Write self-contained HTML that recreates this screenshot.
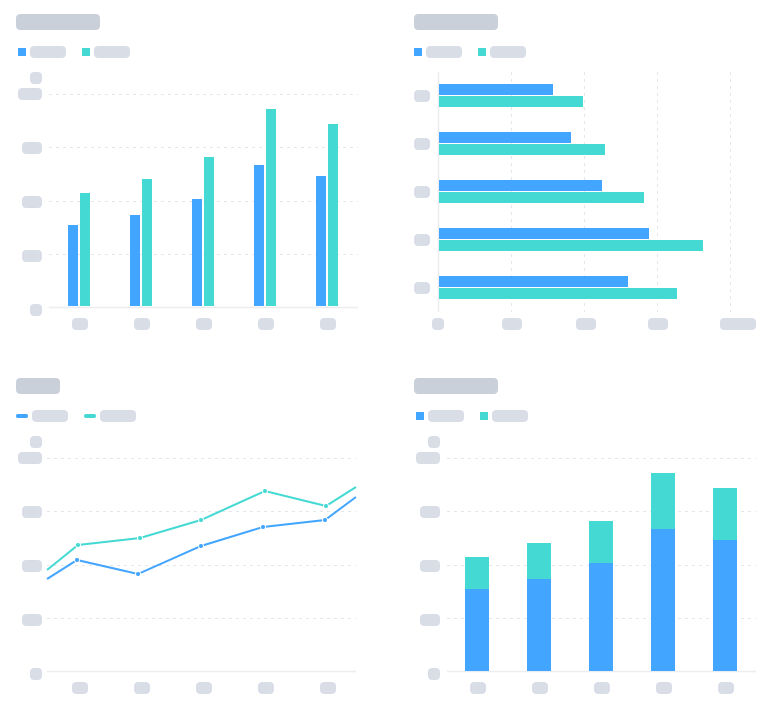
<!DOCTYPE html>
<html><head><meta charset="utf-8"><style>html,body{margin:0;padding:0;background:#fff}svg{display:block}</style></head>
<body>
<svg width="772" height="704" viewBox="0 0 772 704" xmlns="http://www.w3.org/2000/svg">
<g fill="#cad0da">
<rect x="16" y="14" width="84" height="16" rx="4"/>
<rect x="414" y="14" width="84" height="16" rx="4"/>
<rect x="16" y="378" width="44" height="16" rx="4"/>
<rect x="414" y="378" width="84" height="16" rx="4"/>
</g>
<g fill="#d9dde6">
<!-- legends -->
<rect x="30" y="46" width="36" height="12" rx="4"/><rect x="94" y="46" width="36" height="12" rx="4"/>
<rect x="426" y="46" width="36" height="12" rx="4"/><rect x="490" y="46" width="36" height="12" rx="4"/>
<rect x="32" y="410" width="36" height="12" rx="4"/><rect x="100" y="410" width="36" height="12" rx="4"/>
<rect x="428" y="410" width="36" height="12" rx="4"/><rect x="492" y="410" width="36" height="12" rx="4"/>
<!-- chart1 y labels -->
<rect x="30" y="72" width="12" height="12" rx="4"/><rect x="18" y="88" width="24" height="12" rx="4"/>
<rect x="22" y="142" width="20" height="12" rx="4"/><rect x="22" y="196" width="20" height="12" rx="4"/>
<rect x="22" y="250" width="20" height="12" rx="4"/><rect x="30" y="304" width="12" height="12" rx="4"/>
<!-- chart1 x labels -->
<rect x="72" y="318" width="16" height="12" rx="4"/><rect x="134" y="318" width="16" height="12" rx="4"/>
<rect x="196" y="318" width="16" height="12" rx="4"/><rect x="258" y="318" width="16" height="12" rx="4"/>
<rect x="320" y="318" width="16" height="12" rx="4"/>
<!-- chart2 -->
<rect x="414" y="90" width="16" height="12" rx="4"/><rect x="414" y="138" width="16" height="12" rx="4"/>
<rect x="414" y="186" width="16" height="12" rx="4"/><rect x="414" y="234" width="16" height="12" rx="4"/>
<rect x="414" y="282" width="16" height="12" rx="4"/>
<rect x="432" y="318" width="12" height="12" rx="4"/><rect x="502" y="318" width="20" height="12" rx="4"/>
<rect x="576" y="318" width="20" height="12" rx="4"/><rect x="648" y="318" width="20" height="12" rx="4"/>
<rect x="720" y="318" width="36" height="12" rx="4"/>
<!-- chart3 -->
<rect x="30" y="436" width="12" height="12" rx="4"/><rect x="18" y="452" width="24" height="12" rx="4"/>
<rect x="22" y="506" width="20" height="12" rx="4"/><rect x="22" y="560" width="20" height="12" rx="4"/>
<rect x="22" y="614" width="20" height="12" rx="4"/><rect x="30" y="668" width="12" height="12" rx="4"/>
<rect x="72" y="682" width="16" height="12" rx="4"/><rect x="134" y="682" width="16" height="12" rx="4"/>
<rect x="196" y="682" width="16" height="12" rx="4"/><rect x="258" y="682" width="16" height="12" rx="4"/>
<rect x="320" y="682" width="16" height="12" rx="4"/>
<!-- chart4 -->
<rect x="428" y="436" width="12" height="12" rx="4"/><rect x="416" y="452" width="24" height="12" rx="4"/>
<rect x="420" y="506" width="20" height="12" rx="4"/><rect x="420" y="560" width="20" height="12" rx="4"/>
<rect x="420" y="614" width="20" height="12" rx="4"/><rect x="428" y="668" width="12" height="12" rx="4"/>
<rect x="470" y="682" width="16" height="12" rx="4"/><rect x="532" y="682" width="16" height="12" rx="4"/>
<rect x="594" y="682" width="16" height="12" rx="4"/><rect x="656" y="682" width="16" height="12" rx="4"/>
<rect x="718" y="682" width="16" height="12" rx="4"/>
</g>
<!-- legend markers -->
<rect x="18" y="48" width="8" height="8" fill="#42a5ff"/><rect x="82" y="48" width="8" height="8" fill="#44d9d2"/>
<rect x="414" y="48" width="8" height="8" fill="#42a5ff"/><rect x="478" y="48" width="8" height="8" fill="#44d9d2"/>
<rect x="416" y="412" width="8" height="8" fill="#42a5ff"/><rect x="480" y="412" width="8" height="8" fill="#44d9d2"/>
<line x1="18" y1="416" x2="26" y2="416" stroke="#42a5ff" stroke-width="4" stroke-linecap="round"/>
<line x1="86" y1="416" x2="94" y2="416" stroke="#44d9d2" stroke-width="4" stroke-linecap="round"/>
<!-- grids -->
<g stroke="#e4e6ea" stroke-width="1" stroke-dasharray="3 4">
<line x1="49" y1="94.5" x2="358" y2="94.5"/><line x1="49" y1="147.5" x2="358" y2="147.5"/>
<line x1="49" y1="201.5" x2="358" y2="201.5"/><line x1="49" y1="254.5" x2="358" y2="254.5"/>
<line x1="511.5" y1="72" x2="511.5" y2="312"/><line x1="584.5" y1="72" x2="584.5" y2="312"/>
<line x1="657.5" y1="72" x2="657.5" y2="312"/><line x1="730.5" y1="72" x2="730.5" y2="312"/>
<line x1="47" y1="458.5" x2="356" y2="458.5"/><line x1="47" y1="511.5" x2="356" y2="511.5"/>
<line x1="47" y1="565.5" x2="356" y2="565.5"/><line x1="47" y1="618.5" x2="356" y2="618.5"/>
<line x1="447" y1="458.5" x2="756" y2="458.5"/><line x1="447" y1="511.5" x2="756" y2="511.5"/>
<line x1="447" y1="565.5" x2="756" y2="565.5"/><line x1="447" y1="618.5" x2="756" y2="618.5"/>
</g>
<g stroke="#ebedf0" stroke-width="1.5">
<line x1="49" y1="307.5" x2="358" y2="307.5"/>
<line x1="438.5" y1="72" x2="438.5" y2="312"/>
<line x1="47" y1="671.5" x2="356" y2="671.5"/>
<line x1="447" y1="671.5" x2="756" y2="671.5"/>
</g>
<!-- chart1 bars -->
<g fill="#42a5ff"><rect x="68" y="225" width="10" height="81"/><rect x="130" y="215" width="10" height="91"/><rect x="192" y="199" width="10" height="107"/><rect x="254" y="165" width="10" height="141"/><rect x="316" y="176" width="10" height="130"/></g>
<g fill="#44d9d2"><rect x="80" y="193" width="10" height="113"/><rect x="142" y="179" width="10" height="127"/><rect x="204" y="157" width="10" height="149"/><rect x="266" y="109" width="10" height="197"/><rect x="328" y="124" width="10" height="182"/></g>
<!-- chart2 bars -->
<g fill="#42a5ff"><rect x="439" y="84" width="114" height="11"/><rect x="439" y="132" width="132" height="11"/><rect x="439" y="180" width="163" height="11"/><rect x="439" y="228" width="210" height="11"/><rect x="439" y="276" width="189" height="11"/></g>
<g fill="#44d9d2"><rect x="439" y="96" width="144" height="11"/><rect x="439" y="144" width="166" height="11"/><rect x="439" y="192" width="205" height="11"/><rect x="439" y="240" width="264" height="11"/><rect x="439" y="288" width="238" height="11"/></g>
<!-- chart3 lines -->
<polyline points="47,579 77,560 138,574 201,546 263,527 325,520 356,497" fill="none" stroke="#42a5ff" stroke-width="2"/>
<polyline points="47,570 78,545 140,538 201,520 265,491 326,506 356,487" fill="none" stroke="#44d9d2" stroke-width="2"/>
<g fill="#42a5ff" stroke="#fff" stroke-width="1"><circle cx="77" cy="560" r="2.5"/><circle cx="138" cy="574" r="2.5"/><circle cx="201" cy="546" r="2.5"/><circle cx="263" cy="527" r="2.5"/><circle cx="325" cy="520" r="2.5"/></g>
<g fill="#44d9d2" stroke="#fff" stroke-width="1"><circle cx="78" cy="545" r="2.5"/><circle cx="140" cy="538" r="2.5"/><circle cx="201" cy="520" r="2.5"/><circle cx="265" cy="491" r="2.5"/><circle cx="326" cy="506" r="2.5"/></g>
<!-- chart4 stacked -->
<g fill="#42a5ff"><rect x="465" y="589" width="24" height="82"/><rect x="527" y="579" width="24" height="92"/><rect x="589" y="563" width="24" height="108"/><rect x="651" y="529" width="24" height="142"/><rect x="713" y="540" width="24" height="131"/></g>
<g fill="#44d9d2"><rect x="465" y="557" width="24" height="32"/><rect x="527" y="543" width="24" height="36"/><rect x="589" y="521" width="24" height="42"/><rect x="651" y="473" width="24" height="56"/><rect x="713" y="488" width="24" height="52"/></g>
</svg>
</body></html>
